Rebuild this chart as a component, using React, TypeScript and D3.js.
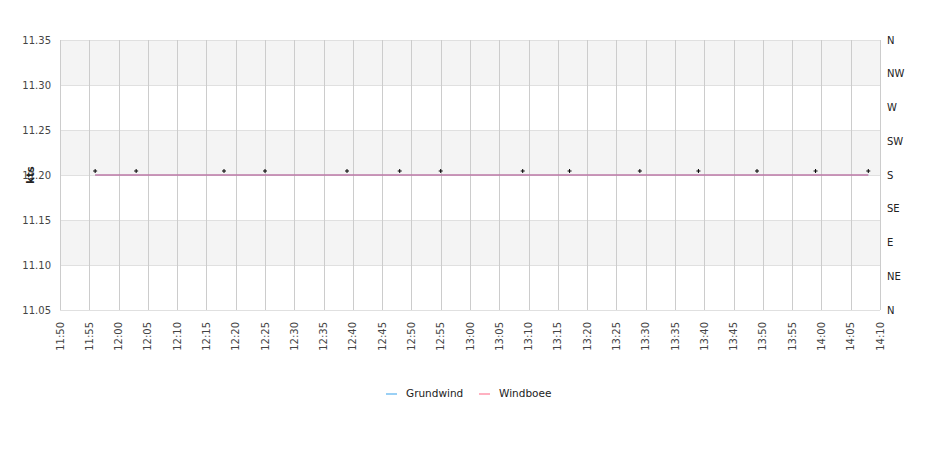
import React from "react";
import * as d3 from "d3";

const W = 940, H = 450;
const M = { left: 60, right: 880, top: 40, bottom: 310 };

const speedTicks = [11.05, 11.1, 11.15, 11.2, 11.25, 11.3, 11.35];
const dirLabels = ["N", "NE", "E", "SE", "S", "SW", "W", "NW", "N"];
const lineTimes = ["11:56", "14:08"];
const grundwind = [11.2, 11.2];
const windboee = [11.2, 11.2];
const dirTimes = ["11:56", "12:03", "12:18", "12:25", "12:39", "12:48", "12:55", "13:09", "13:17", "13:29", "13:39", "13:49", "13:59", "14:08"];
const dirValues = [180, 180, 180, 180, 180, 180, 180, 180, 180, 180, 180, 180, 180, 180];
const seriesNames = ["Grundwind", "Windboee"];

const parse = (s: string) => {
  const [h, m] = s.split(":").map(Number);
  return new Date(2020, 0, 1, h, m);
};

export default function App() {
  const x = d3.scaleTime().domain([parse("11:50"), parse("14:10")]).range([M.left, M.right]);
  const y = d3.scaleLinear().domain([11.05, 11.35]).range([M.bottom, M.top]);
  const yd = d3.scaleLinear().domain([0, 360]).range([M.bottom, M.top]);
  const xTicks = x.ticks(d3.timeMinute.every(5)!);
  const fmt = d3.timeFormat("%H:%M");
  const line = d3.line<[Date, number]>().x(d => x(d[0])).y(d => y(d[1]));
  const gPts = lineTimes.map((t, i) => [parse(t), grundwind[i]] as [Date, number]);
  const wPts = lineTimes.map((t, i) => [parse(t), windboee[i]] as [Date, number]);
  const font = "DejaVu Sans, sans-serif";
  const bands = [0, 2, 4].map(i => [speedTicks[6 - i], speedTicks[5 - i]]);

  return (
    <svg width={W} height={H} style={{ position: "absolute", left: 0, top: 0 }} fontFamily={font}>
      <rect width={W} height={H} fill="#fff" />
      {bands.map(([a, b], i) => (
        <rect key={i} x={M.left} y={y(a)} width={M.right - M.left} height={y(b) - y(a)} fill="#f4f4f4" />
      ))}
      {speedTicks.map((t, i) => (
        <line key={i} x1={M.left} x2={M.right} y1={Math.round(y(t)) + 0.5} y2={Math.round(y(t)) + 0.5} stroke="#e0e0e0" />
      ))}
      {xTicks.map((t, i) => (
        <line key={i} x1={Math.round(x(t)) + 0.5} x2={Math.round(x(t)) + 0.5} y1={M.top} y2={M.bottom} stroke="#cccccc" />
      ))}
      {speedTicks.map((t, i) => (
        <text key={i} x={M.left - 9} y={y(t)} dy="0.35em" textAnchor="end" fontSize={10} fill="#444">{t.toFixed(2)}</text>
      ))}
      {dirLabels.map((l, i) => (
        <text key={i} x={M.right + 7} y={yd(i * 45)} dy="0.35em" textAnchor="start" fontSize={10} fill="#222">{l}</text>
      ))}
      {xTicks.map((t, i) => (
        <text key={i} transform={`translate(${x(t)},${M.bottom + 12}) rotate(-90)`} dy="0.35em" textAnchor="end" fontSize={10} fill="#444">{fmt(t)}</text>
      ))}
      <text transform={`translate(30,${y(11.2)}) rotate(-90)`} textAnchor="middle" dy="0.35em" fontSize={10} fontWeight="bold" fill="#222">kts</text>
      <path d={line(gPts)!} fill="none" stroke="rgba(54,162,235,0.5)" strokeWidth={2} />
      <path d={line(wPts)!} fill="none" stroke="rgba(255,99,132,0.5)" strokeWidth={2} />
      {dirTimes.map((t, i) => {
        const cx = x(parse(t)), cy = yd(dirValues[i]) - 4;
        return (
          <g key={i} stroke="#000" strokeWidth={1}>
            <line x1={cx - 2} x2={cx + 2} y1={cy} y2={cy} />
            <line x1={cx} x2={cx} y1={cy - 2} y2={cy + 2} />
          </g>
        );
      })}
      {seriesNames.map((n, i) => {
        const lx = i === 0 ? 386 : 479;
        const col = i === 0 ? "rgba(54,162,235,0.5)" : "rgba(255,99,132,0.5)";
        return (
          <g key={n}>
            <line x1={lx} x2={lx + 11} y1={394} y2={394} stroke={col} strokeWidth={2} />
            <text x={lx + 20} y={393} dy="0.35em" fontSize={10.5} fill="#222">{n}</text>
          </g>
        );
      })}
    </svg>
  );
}
